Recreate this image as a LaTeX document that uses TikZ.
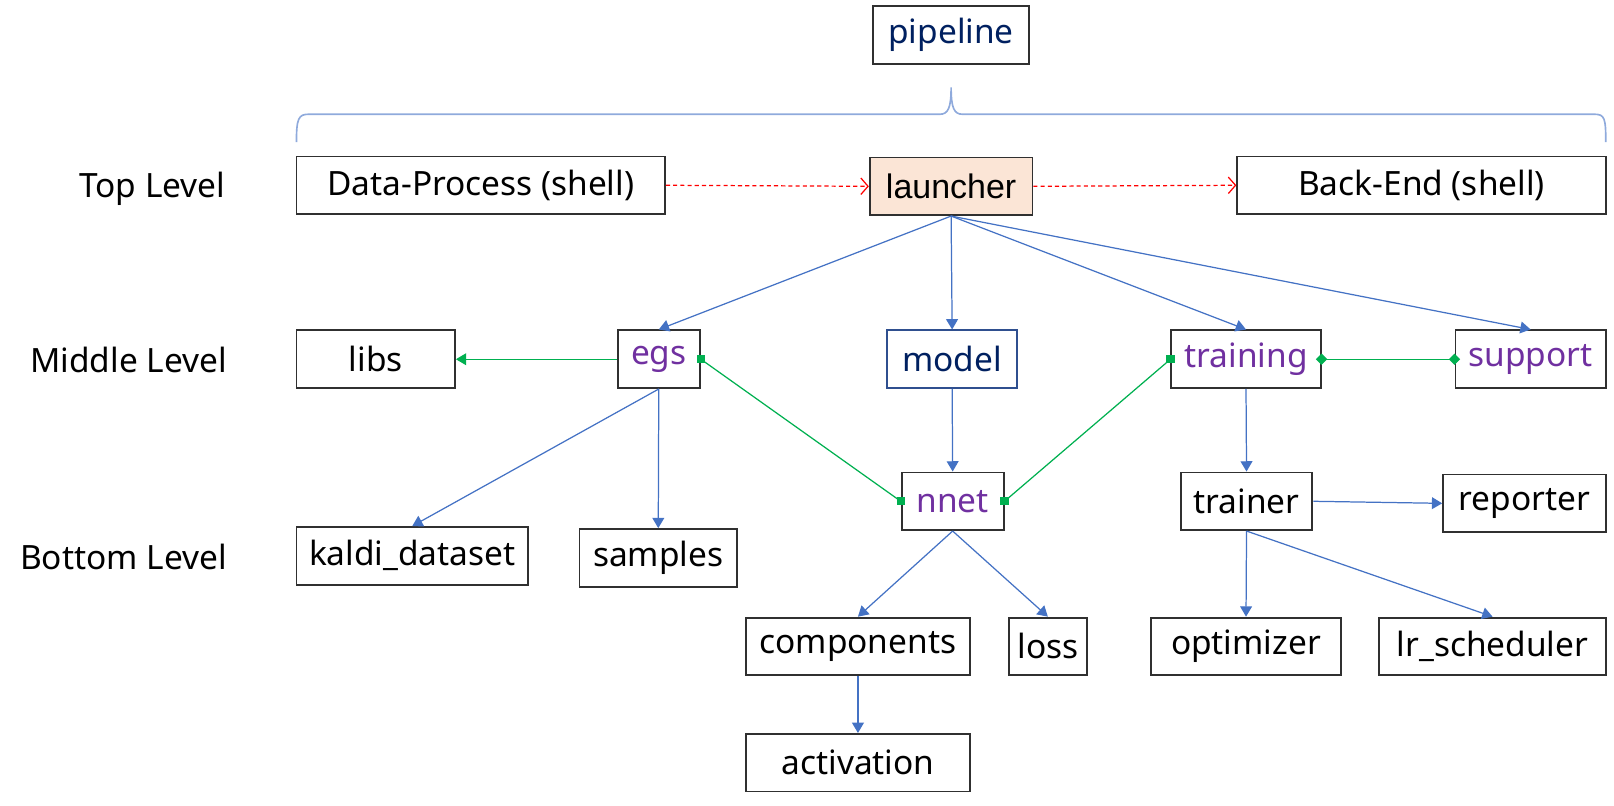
\documentclass[tikz,border=0pt]{standalone}
\usepackage{fontspec}
\setmainfont{Noto Sans}
\newfontfamily\arialf{Liberation Sans}
\usetikzlibrary{arrows.meta}
\definecolor{navy}{HTML}{002060}
\definecolor{purp}{HTML}{7030A0}
\definecolor{ablue}{HTML}{4472C4}
\definecolor{agreen}{HTML}{00B050}
\definecolor{peach}{HTML}{FBE5D6}
\definecolor{bracec}{HTML}{8FAADC}
\definecolor{bord}{HTML}{303030}
\definecolor{navyb}{HTML}{2F4F8F}
\begin{document}
\begin{tikzpicture}[x=1pt,y=-1pt,
  txt/.style={font=\fontsize{32.5}{36}\selectfont},
  box/.style={txt,draw=bord,line width=1.8pt,minimum height=56pt,inner sep=0pt},
  lvl/.style={txt},
  barrow/.style={draw=ablue,line width=1.2pt,-{Triangle[length=10pt,width=11.5pt]}},
  garrow/.style={draw=agreen,line width=1.2pt,-{Triangle[length=10pt,width=11.5pt]}},
  gline/.style={draw=agreen,line width=1.2pt},
  gsq/.style={fill=agreen,minimum size=8pt,inner sep=0pt},
  gdia/.style={draw=agreen,line width=1.2pt,{Diamond[length=11pt,width=11pt]}-{Diamond[length=11pt,width=11pt]},shorten <=-5.5pt,shorten >=-5.5pt},
  rarrow/.style={draw=red,line width=1.2pt,dash pattern=on 4pt off 3pt,-{Straight Barb[length=7pt,width=16pt]}}
]
\useasboundingbox (0,0) rectangle (1568,783);
% nodes
\node[box,minimum width=152pt,text=navy] (pipe) at (924,34) {pipeline};
\node[box,minimum width=358pt] (dp) at (467,180) {Data-Process (shell)};
\node[box,minimum width=158pt,fill=peach,font=\arialf\fontsize{33}{36}\selectfont] (la) at (924,181) {launcher};
\node[box,minimum width=358pt] (be) at (1381,180) {Back-End (shell)};
\node[box,minimum width=154pt] (libs) at (365,349) {libs};
\node[box,minimum width=80pt,text=purp] (egs) at (640,349) {egs};
\node[box,minimum width=126pt,text=navy,draw=navyb] (model) at (925,349) {model};
\node[box,minimum width=145pt,text=purp] (train) at (1210.5,349) {training};
\node[box,minimum width=146pt,text=purp] (sup) at (1487,349) {support};
\node[box,minimum width=225pt] (kd) at (400.5,540) {kaldi\_dataset};
\node[box,minimum width=153pt] (samp) at (639.5,542) {samples};
\node[box,minimum width=99pt,text=purp] (nnet) at (925.5,487) {nnet};
\node[box,minimum width=128pt] (trainer) at (1211,487) {trainer};
\node[box,minimum width=158pt] (rep) at (1481,489) {reporter};
\node[box,minimum width=217pt] (comp) at (833.5,628) {components};
\node[box,minimum width=76pt] (loss) at (1018,628) {loss};
\node[box,minimum width=185pt] (opt) at (1210.5,628) {optimizer};
\node[box,minimum width=220pt] (lr) at (1450,628) {lr\_scheduler};
\node[box,minimum width=217pt] (act) at (833.5,741) {activation};
% level labels
\node[lvl] (tl) at (148,183) {Top Level};
\node[lvl] (ml) at (125,350) {Middle Level};
\node[lvl] (bl) at (120,541) {Bottom Level};
% brace
\draw[bracec,line width=1.6pt] (288,138) .. controls (288,115) and (290,111) .. (300,111) -- (913,111) .. controls (921,111) and (924,105) .. (924,85) .. controls (924,105) and (927,111) .. (935,111) -- (1549,111) .. controls (1559,111) and (1560,115) .. (1560,138);
% red dashed
\draw[rarrow] (dp.east) -- (la.west);
\draw[rarrow] (la.east) -- (be.west);
% blue arrows
\draw[barrow] (la.south) -- (egs.north);
\draw[barrow] (la.south) -- (model.north);
\draw[barrow] (la.south) -- (train.north);
\draw[barrow] (la.south) -- (sup.north);
\draw[barrow] (model.south) -- (nnet.north);
\draw[barrow] (egs.south) -- (kd.north);
\draw[barrow] (egs.south) -- (samp.north);
\draw[barrow] (nnet.south) -- (comp.north);
\draw[barrow] (nnet.south) -- (loss.north);
\draw[barrow] (comp.south) -- (act.north);
\draw[barrow] (train.south) -- (trainer.north);
\draw[barrow] (trainer.east) -- (rep.west);
\draw[barrow] (trainer.south) -- (opt.north);
\draw[barrow] (trainer.south) -- (lr.north);
% green
\draw[garrow] (egs.west) -- (libs.east);
\node[gsq] (s1) at (egs.east) {};
\node[gsq] (s2) at (nnet.west) {};
\node[gsq] (s3) at (nnet.east) {};
\node[gsq] (s4) at (train.west) {};
\draw[gline] (s1.center) -- (s2.center);
\draw[gline] (s4.center) -- (s3.center);
\draw[gdia] (train.east) -- (sup.west);
\end{tikzpicture}
\end{document}
